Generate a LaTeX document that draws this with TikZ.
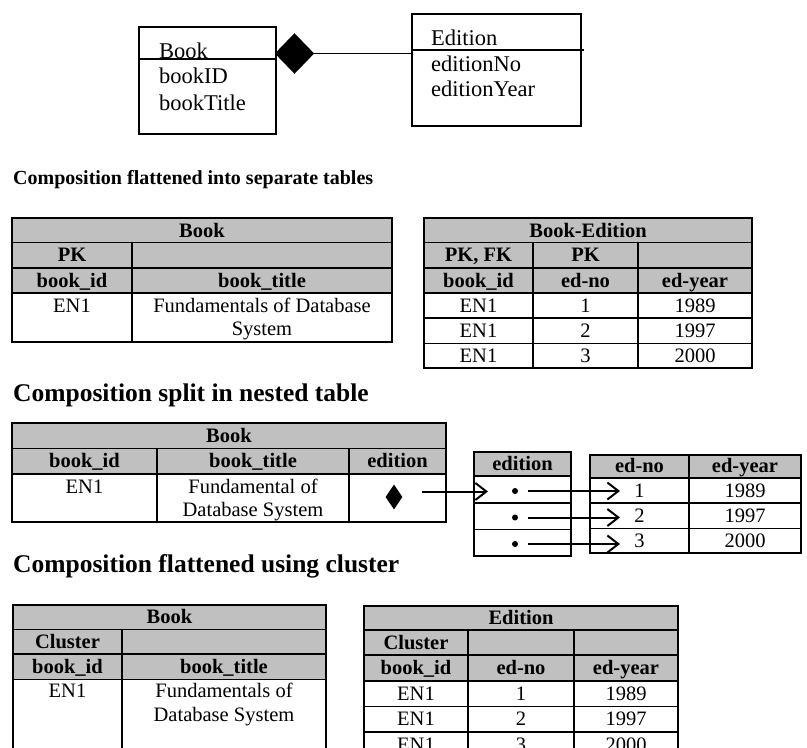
\documentclass[tikz,border=0pt]{standalone}
\usepackage{fontspec}
\setmainfont{Liberation Serif}
\usetikzlibrary{arrows.meta,shapes.geometric}
\definecolor{hdr}{RGB}{192,192,192}
\newcommand\tabfont{\fontsize{20.5}{23.5}\selectfont}
\newcommand\umlfont{\fontsize{22.5}{27}\selectfont}
\newcommand\headA{\fontsize{20}{24}\selectfont\bfseries}
\newcommand\headB{\fontsize{25.5}{30}\selectfont\bfseries}
\begin{document}
\begin{tikzpicture}[x=1pt,y=-1pt,
  tline/.style={line width=1.5pt},
  tborder/.style={line width=2pt},
  ttext/.style={anchor=base,inner sep=0pt,font=\tabfont},
  btext/.style={anchor=base,inner sep=0pt,font=\tabfont\bfseries},
  utext/.style={anchor=base west,inner sep=0pt,font=\umlfont},
  heading/.style={anchor=base west,inner sep=0pt},
  umlbox/.style={draw,line width=1.8pt,inner sep=0pt,anchor=north west},
  arr/.style={line width=2pt,-{Straight Barb[length=11pt,width=17pt,line width=2pt]}},
  dot/.style={circle,fill,inner sep=0pt,minimum size=6pt}]
\useasboundingbox (0,0) rectangle (807,748);
\fill[white] (0,0) rectangle (807,748);

% ---------------- UML ----------------
\node[umlbox,minimum width=137pt,minimum height=106.7pt] (bookcls) at (138,26) {};
\draw[line width=1.8pt] (138,59) -- (275,59);
\node[utext] (bookname) at (159,58) {Book};
\node[utext] (bookid) at (159,83.3) {bookID};
\node[utext] (booktitle) at (159,110) {bookTitle};
\node[diamond,fill,inner sep=0pt,minimum width=39.4pt,minimum height=40.7pt] (umldia) at (294.5,53.5) {};
\node[umlbox,minimum width=169pt,minimum height=112.3pt] (edcls) at (411,12.7) {};
\draw[line width=1.8pt] (411,50) -- (583.6,50);
\node[utext] (edname) at (431,45) {Edition};
\node[utext] (edno) at (431,71.7) {editionNo};
\node[utext] (edyear) at (431,96.7) {editionYear};
\draw[line width=1.5pt] (umldia.east) -- (umldia.east -| edcls.west);

% ---------------- Section 1 ----------------
\node[heading,font=\headA] (h1) at (13,184) {Composition flattened into separate tables};

% Book table
\fill[hdr] (12,218) rectangle (392,293);
\draw[tline] (12,242.5) -- (392,242.5) (12,268) -- (392,268) (12,293) -- (392,293);
\draw[tline] (132,242.5) -- (132,342);
\draw[tborder] (12,218) rectangle (392,342);
\node[btext] (a-title) at (202,237) {Book};
\node[btext] (a-pk) at (72,261.5) {PK};
\node[btext] (a-h1) at (72,287) {book\_id};
\node[btext] (a-h2) at (262,287) {book\_title};
\node[ttext] (a-d1) at (72,312) {EN1};
\node[ttext] (a-d2a) at (262,312) {Fundamentals of Database};
\node[ttext] (a-d2b) at (262,335.5) {System};

% Book-Edition table
\fill[hdr] (424,218) rectangle (752,293);
\foreach \yy in {242.5,268,293,318,343.3} \draw[tline] (424,\yy) -- (752,\yy);
\draw[tline] (533,242.5) -- (533,368) (638,242.5) -- (638,368);
\draw[tborder] (424,218) rectangle (752,368);
\node[btext] (b-title) at (588,237) {Book-Edition};
\node[btext] (b-pk1) at (478.5,261.5) {PK, FK};
\node[btext] (b-pk2) at (585.5,261.5) {PK};
\node[btext] (b-h1) at (478.5,287) {book\_id};
\node[btext] (b-h2) at (585.5,287) {ed-no};
\node[btext] (b-h3) at (695,287) {ed-year};
\node[ttext] (b-r1a) at (478.5,312) {EN1};
\node[ttext] (b-r1b) at (585.5,312) {1};
\node[ttext] (b-r1c) at (695,312) {1989};
\node[ttext] (b-r2a) at (478.5,337) {EN1};
\node[ttext] (b-r2b) at (585.5,337) {2};
\node[ttext] (b-r2c) at (695,337) {1997};
\node[ttext] (b-r3a) at (478.5,362) {EN1};
\node[ttext] (b-r3b) at (585.5,362) {3};
\node[ttext] (b-r3c) at (695,362) {2000};

% ---------------- Section 2 ----------------
\node[heading,font=\headB] (h2) at (13,401) {Composition split in nested table};

% nested Book table
\fill[hdr] (12,423) rectangle (446,474);
\draw[tline] (12,448.5) -- (446,448.5) (12,474) -- (446,474);
\draw[tline] (157,448.5) -- (157,522) (349,448.5) -- (349,522);
\draw[tborder] (12,423) rectangle (446,522);
\node[btext] (c-title) at (229,442) {Book};
\node[btext] (c-h1) at (84.5,467.5) {book\_id};
\node[btext] (c-h2) at (253,467.5) {book\_title};
\node[btext] (c-h3) at (397.5,467.5) {edition};
\node[ttext] (c-d1) at (84.5,493) {EN1};
\node[ttext] (c-d2a) at (253,493) {Fundamental of};
\node[ttext] (c-d2b) at (253,516.5) {Database System};
\node[diamond,fill,inner sep=0pt,minimum width=17pt,minimum height=25pt] (c-dia) at (394,497) {};
\coordinate (c-start) at (421.5,491.5);

% edition column table
\fill[hdr] (474,452) rectangle (571,476);
\draw[tline] (474,476) -- (571,476) (474,503) -- (571,503) (474,529.5) -- (571,529.5);
\draw[tborder] (474,452) rectangle (571,556);
\node[btext] (d-title) at (522.5,470.5) {edition};
\node[dot] (d-dot1) at (515,491) {};
\node[dot] (d-dot2) at (515,517.5) {};
\node[dot] (d-dot3) at (515,544) {};
\coordinate (d-in) at (488,491.5);

% ed-no / ed-year table
\fill[hdr] (590,455) rectangle (801,478);
\draw[tline] (590,478) -- (801,478) (590,503) -- (801,503) (590,528.5) -- (801,528.5);
\draw[tline] (689,455) -- (689,553);
\draw[tborder] (590,455) rectangle (801,553);
\node[btext] (e-h1) at (639.5,472.5) {ed-no};
\node[btext] (e-h2) at (745,472.5) {ed-year};
\node[ttext] (e-r1a) at (639.5,497) {1};
\node[ttext] (e-r1b) at (745,497) {1989};
\node[ttext] (e-r2a) at (639.5,522) {2};
\node[ttext] (e-r2b) at (745,522) {1997};
\node[ttext] (e-r3a) at (639.5,547.5) {3};
\node[ttext] (e-r3b) at (745,547.5) {2000};
\coordinate (e-in1) at (620,491);
\coordinate (e-in2) at (620,517.5);
\coordinate (e-in3) at (620,544);

\draw[arr] (c-start) -- (d-in);
\draw[arr,shorten <=10pt] (d-dot1) -- (e-in1);
\draw[arr,shorten <=10pt] (d-dot2) -- (e-in2);
\draw[arr,shorten <=10pt] (d-dot3) -- (e-in3);

% ---------------- Section 3 ----------------
\node[heading,font=\headB] (h3) at (13,572) {Composition flattened using cluster};

% cluster Book table
\fill[hdr] (13,604.5) rectangle (326,679.5);
\draw[tline] (13,629.5) -- (326,629.5) (13,654) -- (326,654) (13,679.5) -- (326,679.5);
\draw[tline] (122,629.5) -- (122,760);
\draw[tborder] (13,760) -- (13,604.5) -- (326,604.5) -- (326,760);
\node[btext] (f-title) at (169.5,623.5) {Book};
\node[btext] (f-cl) at (67.5,648.5) {Cluster};
\node[btext] (f-h1) at (67.5,673) {book\_id};
\node[btext] (f-h2) at (224,673) {book\_title};
\node[ttext] (f-d1) at (67.5,697) {EN1};
\node[ttext] (f-d2a) at (224,697) {Fundamentals of};
\node[ttext] (f-d2b) at (224,721) {Database System};

% cluster Edition table
\fill[hdr] (364,605.5) rectangle (678,681);
\foreach \yy in {630,655,681,706.5,732} \draw[tline] (364,\yy) -- (678,\yy);
\draw[tline] (468,630) -- (468,760) (574,630) -- (574,760);
\draw[tborder] (364,760) -- (364,605.5) -- (678,605.5) -- (678,760);
\node[btext] (g-title) at (521,624.5) {Edition};
\node[btext] (g-cl) at (416,649) {Cluster};
\node[btext] (g-h1) at (416,674) {book\_id};
\node[btext] (g-h2) at (521,674) {ed-no};
\node[btext] (g-h3) at (626,674) {ed-year};
\node[ttext] (g-r1a) at (416,700) {EN1};
\node[ttext] (g-r1b) at (521,700) {1};
\node[ttext] (g-r1c) at (626,700) {1989};
\node[ttext] (g-r2a) at (416,725.5) {EN1};
\node[ttext] (g-r2b) at (521,725.5) {2};
\node[ttext] (g-r2c) at (626,725.5) {1997};
\node[ttext] (g-r3a) at (416,751) {EN1};
\node[ttext] (g-r3b) at (521,751) {3};
\node[ttext] (g-r3c) at (626,751) {2000};
\end{tikzpicture}
\end{document}
